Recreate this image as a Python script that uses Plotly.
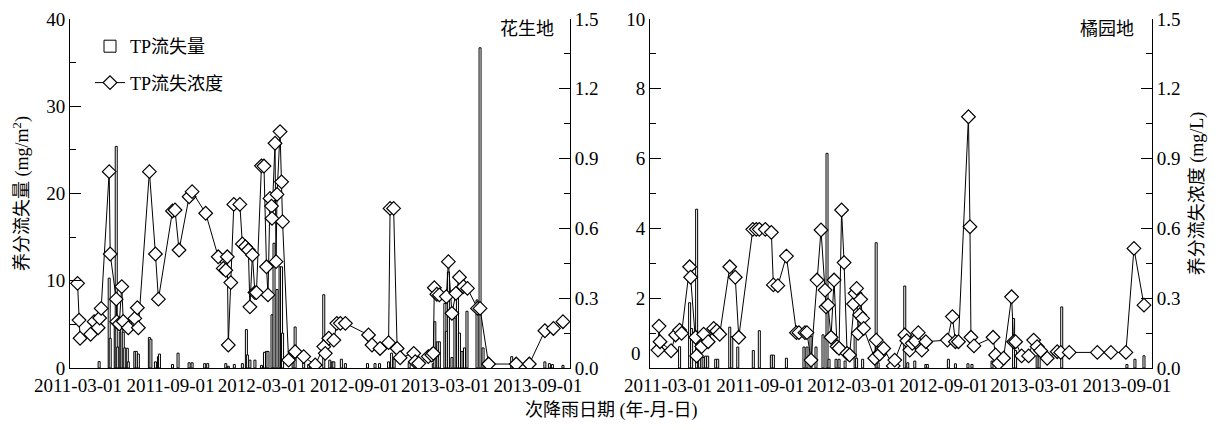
import plotly.graph_objects as go

# ---------------- data: 花生地 (peanut field) ----------------
peanut_load_dates = [
    "2011-04-12", "2011-05-02", "2011-05-04", "2011-05-14", "2011-05-16", "2011-05-19",
    "2011-05-24", "2011-05-27", "2011-05-30", "2011-06-02", "2011-06-07", "2011-06-09",
    "2011-06-22", "2011-06-25", "2011-06-29", "2011-07-21", "2011-07-24", "2011-08-02",
    "2011-08-08", "2011-08-10", "2011-09-05", "2011-09-16", "2011-10-08", "2011-10-14",
    "2011-11-08", "2011-11-14", "2011-12-20", "2011-12-25", "2012-01-06", "2012-01-22",
    "2012-01-30", "2012-02-01", "2012-02-06", "2012-02-16", "2012-02-29", "2012-03-06",
    "2012-03-10", "2012-03-13", "2012-03-21", "2012-03-25", "2012-03-31", "2012-04-06",
    "2012-04-09", "2012-04-11", "2012-05-02", "2012-05-06", "2012-05-23", "2012-06-02",
    "2012-07-02", "2012-07-14", "2012-07-19", "2012-07-22", "2012-08-06", "2012-08-14",
    "2012-09-27", "2012-10-12", "2012-10-21", "2012-11-08", "2012-11-14", "2012-11-19",
    "2012-12-19", "2013-02-05", "2013-02-08", "2013-02-13", "2013-02-17", "2013-02-28",
    "2013-03-03", "2013-03-07", "2013-03-14", "2013-03-20", "2013-03-25", "2013-03-29",
    "2013-04-03", "2013-04-08", "2013-04-13", "2013-05-03", "2013-05-09", "2013-05-15",
    "2013-07-11", "2013-09-15", "2013-09-24", "2013-09-30", "2013-10-21",
]
peanut_load = [
    0.73, 10.3, 3.4, 5.7, 25.4, 2.4,
    4.1, 4.8, 4.1, 2.3, 2.26, 0.7,
    1.9, 1.9, 1.6, 3.5, 3.3, 0.7,
    1.3, 1.6, 0.4, 1.7, 0.6, 0.6,
    0.5, 0.5, 0.5, 0.2, 0.4, 0.5,
    4.4, 1.5, 0.9, 0.9, 0.3, 1.8,
    1.9, 1.9, 6.1, 14.3, 9.0, 11.6,
    11.6, 4.0, 0.6, 4.7, 0.6, 0.4,
    8.4, 0.9, 0.7, 0.7, 1.0, 0.5,
    0.5, 0.5, 0.5, 0.7, 1.7, 1.0,
    0.6, 0.5, 5.3, 3.0, 3.0, 7.4,
    4.2, 11.0, 1.2, 5.7, 9.3, 4.0,
    1.9, 2.3, 6.5, 7.8, 36.7, 2.3,
    1.3, 0.7, 0.5, 0.4, 0.3,
]
peanut_conc_dates = [
    "2011-02-28", "2011-03-03", "2011-03-05", "2011-03-26", "2011-04-02", "2011-04-10",
    "2011-04-13", "2011-04-16", "2011-05-02", "2011-05-04", "2011-05-16", "2011-05-17",
    "2011-05-22", "2011-05-27", "2011-05-30", "2011-06-09", "2011-06-22", "2011-06-27",
    "2011-06-29", "2011-07-21", "2011-08-02", "2011-08-08", "2011-09-05", "2011-09-10",
    "2011-09-18", "2011-10-08", "2011-10-14", "2011-11-10", "2011-12-05", "2011-12-15",
    "2011-12-20", "2011-12-23", "2011-12-25", "2011-12-30", "2012-01-05", "2012-01-17",
    "2012-01-22", "2012-01-28", "2012-02-03", "2012-02-06", "2012-02-11", "2012-02-16",
    "2012-02-19", "2012-02-29", "2012-03-05", "2012-03-10", "2012-03-13", "2012-03-17",
    "2012-03-20", "2012-03-21", "2012-03-27", "2012-03-29", "2012-03-31", "2012-04-06",
    "2012-04-09", "2012-04-11", "2012-04-23", "2012-05-06", "2012-05-23", "2012-06-15",
    "2012-07-02", "2012-07-05", "2012-07-12", "2012-07-22", "2012-07-28", "2012-08-04",
    "2012-08-14", "2012-09-29", "2012-10-06", "2012-10-22", "2012-11-08", "2012-11-11",
    "2012-11-18", "2012-11-25", "2012-12-01", "2012-12-28", "2012-12-31", "2013-01-07",
    "2013-01-26", "2013-02-02", "2013-02-05", "2013-02-07", "2013-02-12", "2013-02-17",
    "2013-03-03", "2013-03-07", "2013-03-14", "2013-03-22", "2013-03-29", "2013-04-06",
    "2013-04-14", "2013-05-04", "2013-05-09", "2013-05-26", "2013-07-20", "2013-08-15",
    "2013-09-15", "2013-10-02", "2013-10-21",
]
peanut_conc = [
    0.364, 0.206, 0.128, 0.145, 0.199, 0.173,
    0.215, 0.256, 0.844, 0.49, 0.296, 0.199,
    0.189, 0.35, 0.2, 0.173, 0.213, 0.259,
    0.173, 0.844, 0.49, 0.296, 0.675, 0.679,
    0.507, 0.736, 0.758, 0.665, 0.478, 0.428,
    0.42, 0.478, 0.099, 0.367, 0.703, 0.703,
    0.533, 0.521, 0.507, 0.263, 0.486, 0.324,
    0.324, 0.869, 0.868, 0.435, 0.314, 0.729,
    0.696, 0.643, 0.966, 0.457, 0.746, 1.016,
    0.8, 0.629, 0.034, 0.07, 0.049, 0.013,
    0.092, 0.063, 0.128, 0.12, 0.192, 0.192,
    0.192, 0.142, 0.099, 0.084, 0.109, 0.686,
    0.686, 0.084, 0.044, 0.063, 0.027, 0.02,
    0.049, 0.056, 0.063, 0.345, 0.317, 0.314,
    0.307, 0.457, 0.235, 0.321, 0.39, 0.35,
    0.342, 0.256, 0.256, 0.017, 0.017, 0.017,
    0.16, 0.17, 0.199,
]

# ---------------- data: 橘园地 (orange orchard) ----------------
orange_load_dates = [
    "2011-03-24", "2011-04-13", "2011-04-17", "2011-04-27", "2011-05-03", "2011-05-10",
    "2011-05-15", "2011-05-19", "2011-06-04", "2011-06-08", "2011-07-02", "2011-07-06",
    "2011-07-18", "2011-08-18", "2011-08-30", "2011-09-23", "2011-09-27", "2011-10-23",
    "2011-11-27", "2011-12-03", "2011-12-11", "2011-12-21", "2012-01-04", "2012-01-12",
    "2012-01-16", "2012-01-30", "2012-02-05", "2012-02-17", "2012-03-08", "2012-03-11",
    "2012-03-23", "2012-04-19", "2012-04-23", "2012-06-15", "2012-06-21", "2012-07-05",
    "2012-07-27", "2012-07-30", "2012-09-10", "2012-09-24", "2012-10-19", "2012-10-27",
    "2012-12-06", "2013-01-18", "2013-01-22", "2013-03-06", "2013-03-10", "2013-04-24",
    "2013-09-01", "2013-09-17", "2013-10-05",
]
orange_load = [
    0.61, 1.87, 1.13, 4.55, 0.55, 0.3,
    0.34, 0.34, 0.25, 0.25, 1.17, 0.9,
    0.6, 0.5, 1.07, 0.37, 0.37, 0.28,
    0.6, 0.6, 0.9, 0.6, 0.95, 6.15,
    0.25, 0.25, 0.25, 0.2, 1.0, 0.28,
    0.25, 3.59, 0.15, 2.35, 0.15, 0.2,
    0.1, 0.1, 0.25, 0.12, 0.12, 0.1,
    0.2, 1.42, 0.5, 0.35, 0.35, 1.75,
    0.1, 0.25, 0.35,
]
orange_conc_dates = [
    "2011-02-09", "2011-02-11", "2011-02-13", "2011-03-07", "2011-03-16", "2011-03-24",
    "2011-03-28", "2011-04-13", "2011-04-15", "2011-04-25", "2011-04-27", "2011-05-07",
    "2011-05-11", "2011-05-20", "2011-05-31", "2011-06-06", "2011-06-12", "2011-07-02",
    "2011-07-13", "2011-07-20", "2011-08-17", "2011-08-24", "2011-08-30", "2011-09-11",
    "2011-09-23", "2011-09-27", "2011-10-06", "2011-10-23", "2011-11-12", "2011-11-17",
    "2011-11-29", "2011-12-03", "2011-12-11", "2011-12-23", "2011-12-31", "2012-01-08",
    "2012-01-10", "2012-01-14", "2012-01-20", "2012-01-26", "2012-02-01", "2012-02-05",
    "2012-02-10", "2012-02-15", "2012-02-21", "2012-02-26", "2012-03-05", "2012-03-08",
    "2012-03-11", "2012-03-14", "2012-03-17", "2012-03-19", "2012-03-23", "2012-03-25",
    "2012-04-16", "2012-04-19", "2012-04-26", "2012-05-04", "2012-05-23", "2012-05-26",
    "2012-06-15", "2012-06-19", "2012-06-25", "2012-06-30", "2012-07-06", "2012-07-12",
    "2012-07-19", "2012-07-27", "2012-09-08", "2012-09-18", "2012-09-24", "2012-09-30",
    "2012-10-20", "2012-10-23", "2012-10-25", "2012-10-31", "2012-12-08", "2012-12-13",
    "2012-12-19", "2012-12-29", "2013-01-14", "2013-01-18", "2013-01-22", "2013-02-03",
    "2013-02-17", "2013-02-27", "2013-03-06", "2013-03-13", "2013-03-26", "2013-04-15",
    "2013-04-22", "2013-05-09", "2013-07-04", "2013-07-31", "2013-08-30", "2013-09-15",
    "2013-10-05",
]
orange_conc = [
    0.077, 0.18, 0.113, 0.074, 0.142, 0.163,
    0.149, 0.435, 0.39, 0.132, 0.052, 0.092,
    0.145, 0.113, 0.17, 0.159, 0.145, 0.435,
    0.39, 0.132, 0.596, 0.596, 0.596, 0.596,
    0.583, 0.357, 0.354, 0.481, 0.152, 0.152,
    0.152, 0.152, 0.034, 0.378, 0.593, 0.335,
    0.263, 0.27, 0.132, 0.378, 0.092, 0.085,
    0.679, 0.453, 0.063, 0.056, 0.275, 0.321,
    0.342, 0.149, 0.228, 0.295, 0.213, 0.17,
    0.042, 0.12, 0.06, 0.084, 0.009, 0.034,
    0.142, 0.117, 0.077, 0.106, 0.117, 0.152,
    0.077, 0.113, 0.12, 0.221, 0.113, 0.113,
    1.08, 0.607, 0.132, 0.095, 0.132, 0.056,
    0.02, 0.042, 0.306, 0.113, 0.113, 0.052,
    0.052, 0.12, 0.092, 0.074, 0.042, 0.07,
    0.067, 0.067, 0.067, 0.067, 0.067, 0.514,
    0.27,
]

date_ticks = ["2011-03-01", "2011-09-01", "2012-03-01", "2012-09-01", "2013-03-01", "2013-09-01"]
orange_load_ticks = [0, 2, 4, 6, 8, 10]
orange_load_ticktext = ["", "2", "4", "6", "8", "10"]   # "0" is drawn slightly raised, as in the source

# ---------------- figure ----------------
OFF = 8                       # page body margin of the html page
W, H = 1222 - OFF, 430 - OFF  # figure size


def px(x):   # page x pixel -> paper fraction
    return (x - OFF) / W


def py(y):   # page y pixel -> paper fraction
    return (H - (y - OFF)) / H


FONT = "Liberation Serif, Times New Roman, Noto Sans CJK SC, serif"
DAY = 86400000
bar_style = dict(color="white", line=dict(color="black", width=1))
mk_style = dict(symbol="diamond", size=10.5, color="white", line=dict(color="black", width=1.2))

fig = go.Figure()
fig.add_bar(x=peanut_load_dates, y=peanut_load, xaxis="x", yaxis="y", width=4 * DAY,
            marker=bar_style, name="TP流失量", legendgroup="a")
fig.add_scatter(x=peanut_conc_dates, y=peanut_conc, xaxis="x", yaxis="y2",
                mode="lines+markers", line=dict(color="black", width=1), marker=mk_style,
                name="TP流失浓度", legendgroup="b")
fig.add_bar(x=orange_load_dates, y=orange_load, xaxis="x2", yaxis="y3", width=4 * DAY,
            marker=bar_style, showlegend=False)
fig.add_scatter(x=orange_conc_dates, y=orange_conc, xaxis="x2", yaxis="y4",
                mode="lines+markers", line=dict(color="black", width=1), marker=mk_style,
                showlegend=False)

ydom = [py(368), py(19)]
tickfont = dict(family=FONT, size=19, color="black")
titlefont = dict(family=FONT, size=18, color="black")
common_x = dict(type="date", tickvals=date_ticks, ticktext=date_ticks, showline=True,
                linecolor="black", linewidth=1, ticks="", showgrid=False, zeroline=False,
                tickfont=tickfont, automargin=False)
common_y = dict(showline=True, linecolor="black", linewidth=1, ticks="inside", ticklen=11,
                tickcolor="black", showgrid=False, zeroline=False, tickfont=tickfont,
                domain=ydom, automargin=False)

fig.update_layout(
    width=W, height=H, margin=dict(l=0, r=0, t=0, b=0, autoexpand=False),
    paper_bgcolor="white", plot_bgcolor="white", barmode="overlay",
    font=dict(family=FONT, size=18, color="black"),
    xaxis=dict(common_x, domain=[px(70), px(570)], range=["2011-02-13", "2013-11-04"], anchor="y"),
    xaxis2=dict(common_x, domain=[px(650), px(1152)], range=["2011-01-24", "2013-10-21"], anchor="y3"),
    yaxis=dict(common_y, range=[0, 40], dtick=10, anchor="x",
               minor=dict(dtick=5, ticks="inside", ticklen=6, tickcolor="black"),
               title=dict(text="养分流失量 (mg/m<sup>2</sup>)", standoff=12, font=titlefont)),
    yaxis2=dict(common_y, range=[0, 1.5], dtick=0.3, tickformat=".1f", overlaying="y",
                side="right", anchor="x",
                minor=dict(dtick=0.15, ticks="inside", ticklen=6, tickcolor="black")),
    yaxis3=dict(common_y, range=[0, 10], tickvals=orange_load_ticks,
                ticktext=orange_load_ticktext, anchor="x2",
                minor=dict(dtick=1, ticks="inside", ticklen=6, tickcolor="black")),
    yaxis4=dict(common_y, range=[0, 1.5], dtick=0.3, tickformat=".1f", overlaying="y3",
                side="right", anchor="x2",
                minor=dict(dtick=0.15, ticks="inside", ticklen=6, tickcolor="black"),
                title=dict(text="养分流失浓度 (mg/L)", standoff=10, font=titlefont)),
    legend=dict(x=px(90), y=py(28), xanchor="left", yanchor="top",
                bgcolor="rgba(0,0,0,0)", font=titlefont, tracegroupgap=10),
    showlegend=True,
    annotations=[
        dict(text="花生地", x=px(556), y=py(29), xref="paper", yref="paper",
             xanchor="right", yanchor="middle", showarrow=False, font=titlefont),
        dict(text="橘园地", x=px(1136), y=py(29), xref="paper", yref="paper",
             xanchor="right", yanchor="middle", showarrow=False, font=titlefont),
        dict(text="次降雨日期 (年-月-日)", x=px(611), y=py(410), xref="paper", yref="paper",
             xanchor="center", yanchor="middle", showarrow=False, font=titlefont),
        dict(text="0", x=px(643), y=py(353), xref="paper", yref="paper",
             xanchor="right", yanchor="middle", showarrow=False, font=tickfont),
    ],
)

fig.write_html("out.html")
